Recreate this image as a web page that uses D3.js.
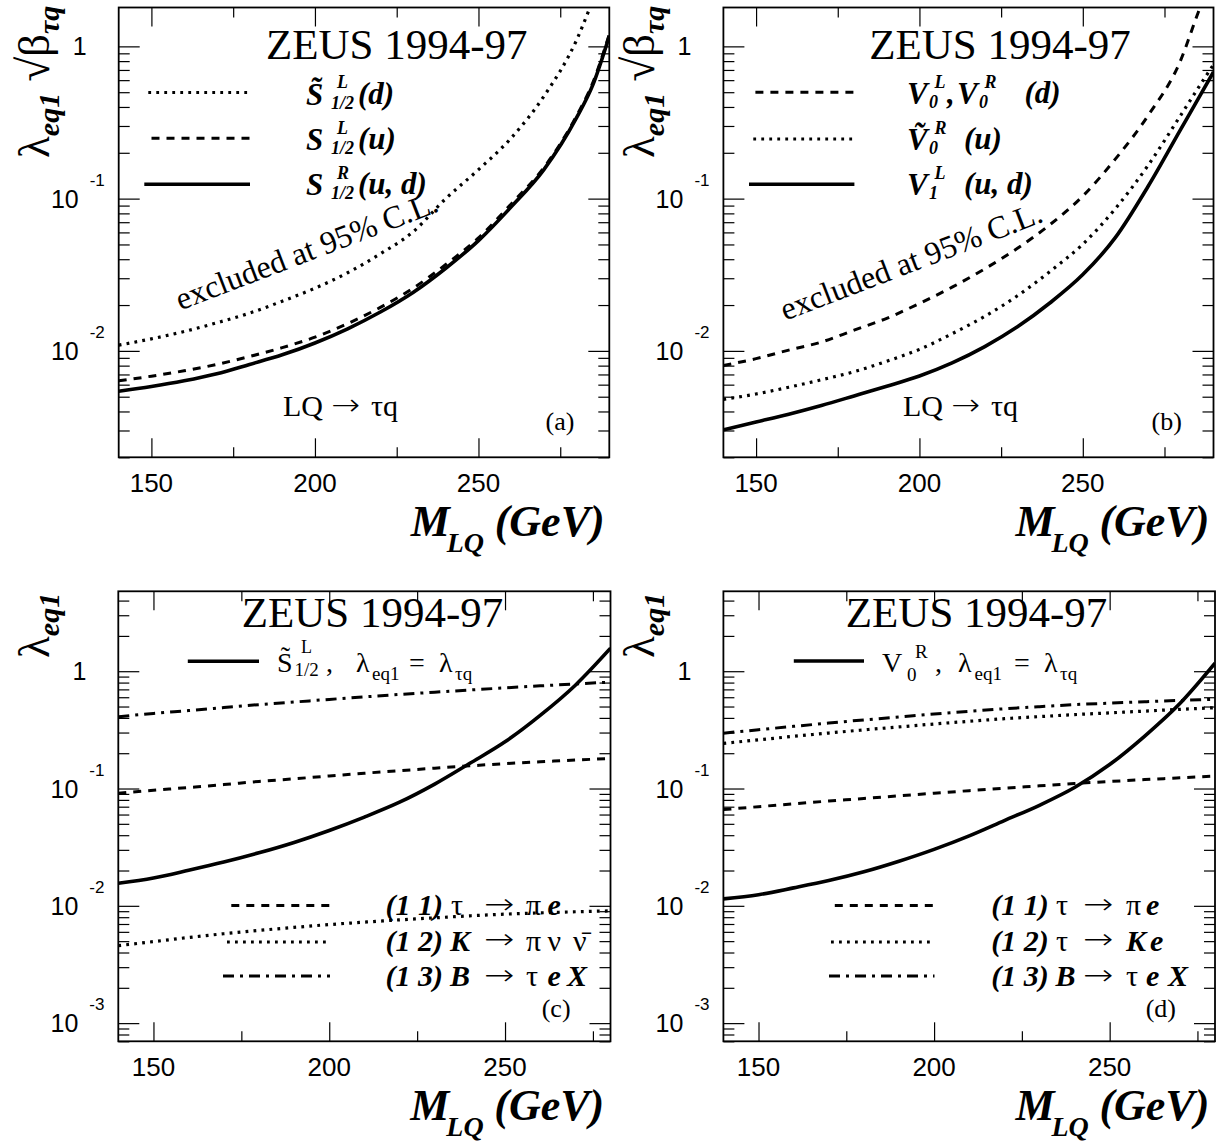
<!DOCTYPE html>
<html>
<head>
<meta charset="utf-8">
<script src="https://cdn.jsdelivr.net/npm/d3@7"></script>
<style>
  body { margin: 0; background: #fff; }
  svg text { fill: #000; }
</style>
</head>
<body>
<svg id="chart" width="1223" height="1142"></svg>
<script>
// ---------- data: coupling limits vs leptoquark mass ----------
const massAB = [140,150,160,170,180,190,200,210,220,230,240,250,260,270,280,285,290];
const massCD = [140,150,160,170,180,190,200,210,220,230,240,250,260,270,280];

// (a) scalar leptoquarks, lambda_eq1 * sqrt(beta_tq)
const aS12tL_d = [0.0109,0.0120,0.0134,0.0153,0.0177,0.0212,0.0258,0.0326,0.0434,0.0605,0.100,0.155,0.25,0.47,1.1,2.0,3.5];
const aS12L_u  = [0.00636,0.00682,0.00740,0.00815,0.00918,0.0105,0.0123,0.0151,0.0193,0.0258,0.0369,0.0552,0.0923,0.160,0.35,0.58,1.2];
const aS12R_ud = [0.00543,0.00583,0.00636,0.00708,0.00815,0.00942,0.01127,0.01396,0.0180,0.0242,0.0349,0.0530,0.0883,0.155,0.34,0.56,1.17];

// (b) vector leptoquarks
const bV0_d    = [0.00802,0.00889,0.01012,0.01143,0.01368,0.01637,0.0205,0.0262,0.0346,0.0472,0.0676,0.1040,0.1824,0.3516,0.815,1.6,3.0];
const bV0tR_u  = [0.00480,0.00521,0.00577,0.00646,0.00730,0.00855,0.01023,0.01297,0.01687,0.0230,0.0333,0.0502,0.0861,0.1656,0.354,0.52,0.76];
const bV1L_ud  = [0.00303,0.00341,0.00384,0.00438,0.00506,0.00586,0.00684,0.00834,0.01067,0.01439,0.0207,0.0317,0.0556,0.1205,0.286,0.44,0.68];

// (c) S~L_1/2 with lambda_eq1 = lambda_tq, and low-energy bounds
const cS12tL   = [0.0156,0.0173,0.0201,0.0236,0.0283,0.0347,0.0439,0.0571,0.0764,0.109,0.164,0.25,0.42,0.76,1.57];
const cBound11 = [0.0912,0.0965,0.102,0.108,0.115,0.121,0.128,0.135,0.142,0.149,0.156,0.163,0.169,0.175,0.180];
const cBound12 = [0.00458,0.00495,0.00537,0.00578,0.00617,0.00655,0.00692,0.00726,0.00759,0.00790,0.00822,0.00849,0.00871,0.00890,0.00905];
const cBound13 = [0.409,0.437,0.462,0.490,0.519,0.546,0.575,0.604,0.634,0.662,0.692,0.721,0.750,0.779,0.807];

// (d) V0R with lambda_eq1 = lambda_tq, and low-energy bounds
const dV0R     = [0.01146,0.01245,0.01422,0.01641,0.0195,0.0240,0.0303,0.0395,0.0533,0.072,0.102,0.16,0.28,0.53,1.17];
const dBound11 = [0.0661,0.0700,0.0741,0.0782,0.0822,0.0867,0.0912,0.0959,0.1007,0.1054,0.1102,0.1148,0.1191,0.1233,0.1276];
const dBound12 = [0.2427,0.260,0.2786,0.2972,0.3162,0.335,0.3548,0.3741,0.3936,0.4102,0.4266,0.4416,0.4571,0.4732,0.4887];
const dBound13 = [0.2965,0.3170,0.3388,0.3614,0.3846,0.4074,0.4315,0.4550,0.4786,0.4989,0.5188,0.5346,0.5495,0.5636,0.5768];

const xTicksMajor = [150, 200, 250];
const xTicksMinor = [175, 225, 275];

// ---------- styles ----------
const SERIF = '"Liberation Serif","Times New Roman",Times,serif';
const SANS  = '"Liberation Sans",Arial,Helvetica,sans-serif';
const ARROW = '"DejaVu Sans",sans-serif';
const STYLE = {
  solid:   { w: 3.6, dash: null },
  dashed:  { w: 3.0, dash: "8,7" },
  dotted:  { w: 3.2, dash: "2.8,5.2" },
  dashdot: { w: 3.0, dash: "11,6,3,6" }
};

const svg = d3.select("#chart");
svg.append("rect").attr("width", 1223).attr("height", 1142).attr("fill", "#fff");

let clipCount = 0;

function makePanel(o) {
  const g = svg.append("g");
  const x = d3.scaleLinear().domain(o.xDomain).range([o.left, o.right]);
  const y = d3.scaleLog().domain(o.yDomain).range([o.bottom, o.top]);
  const id = "clip" + (clipCount++);
  g.append("clipPath").attr("id", id).append("rect")
    .attr("x", o.left).attr("y", o.top)
    .attr("width", o.right - o.left).attr("height", o.bottom - o.top);

  // decade and sub-decade tick values
  const lo = Math.floor(Math.log10(o.yDomain[0])), hi = Math.ceil(Math.log10(o.yDomain[1]));
  const yMajor = [], yMinor = [];
  for (let d = lo; d <= hi; d++) {
    const base = Math.pow(10, d);
    if (base >= o.yDomain[0] && base <= o.yDomain[1]) yMajor.push(base);
    for (let k = 2; k <= 9; k++) {
      const v = k * base;
      if (v >= o.yDomain[0] && v <= o.yDomain[1]) yMinor.push(v);
    }
  }
  const addAxis = (axis, tx, ty) => {
    const a = g.append("g").attr("transform", `translate(${tx},${ty})`).call(axis);
    a.select(".domain").remove();
    a.selectAll("line").attr("stroke", "#000").attr("stroke-width", 1.2);
  };
  // ticks are drawn inside the frame on all four sides
  addAxis(d3.axisBottom(x).tickValues(xTicksMajor).tickSize(-19).tickSizeOuter(0).tickFormat(""), 0, o.bottom);
  addAxis(d3.axisBottom(x).tickValues(xTicksMinor).tickSize(-10).tickSizeOuter(0).tickFormat(""), 0, o.bottom);
  addAxis(d3.axisTop(x).tickValues(xTicksMajor).tickSize(-19).tickSizeOuter(0).tickFormat(""), 0, o.top);
  addAxis(d3.axisTop(x).tickValues(xTicksMinor).tickSize(-10).tickSizeOuter(0).tickFormat(""), 0, o.top);
  addAxis(d3.axisLeft(y).tickValues(yMajor).tickSize(-21).tickSizeOuter(0).tickFormat(""), o.left, 0);
  addAxis(d3.axisLeft(y).tickValues(yMinor).tickSize(-11).tickSizeOuter(0).tickFormat(""), o.left, 0);
  addAxis(d3.axisRight(y).tickValues(yMajor).tickSize(-21).tickSizeOuter(0).tickFormat(""), o.right, 0);
  addAxis(d3.axisRight(y).tickValues(yMinor).tickSize(-11).tickSizeOuter(0).tickFormat(""), o.right, 0);

  // frame
  g.append("rect").attr("x", o.left).attr("y", o.top)
    .attr("width", o.right - o.left).attr("height", o.bottom - o.top)
    .attr("fill", "none").attr("stroke", "#000").attr("stroke-width", 1.8);

  // x labels
  xTicksMajor.forEach(v => {
    g.append("text").attr("x", x(v)).attr("y", o.bottom + 34.5)
      .attr("text-anchor", "middle").attr("font-family", SANS).attr("font-size", 26).text(v);
  });
  // y labels: 1 and powers of ten
  yMajor.forEach(v => {
    const e = Math.round(Math.log10(v));
    const yy = y(v);
    if (e === 0) {
      g.append("text").attr("x", o.left - 32).attr("y", yy + 8.5)
        .attr("text-anchor", "end").attr("font-family", SANS).attr("font-size", 25).text("1");
    } else {
      const t = g.append("text").attr("font-family", SANS);
      t.append("tspan").attr("x", o.left - 40).attr("y", yy + 9)
        .attr("text-anchor", "end").attr("font-size", 25).text("10");
      t.append("tspan").attr("x", o.left - 29).attr("y", yy - 13)
        .attr("font-size", 17).text(String(e));
    }
  });

  const line = d3.line().x(d => x(d[0])).y(d => y(d[1])).curve(d3.curveMonotoneX);
  const curves = g.append("g").attr("clip-path", `url(#${id})`);
  o.series.forEach(s => {
    const st = STYLE[s.style];
    curves.append("path")
      .datum(s.mass.map((m, i) => [m, s.values[i]]))
      .attr("d", line).attr("fill", "none").attr("stroke", "#000")
      .attr("stroke-width", st.w).attr("stroke-dasharray", st.dash);
  });
  return { g, x, y };
}

function legendLine(g, x1, x2, yy, style) {
  const st = STYLE[style];
  g.append("line").attr("x1", x1).attr("x2", x2).attr("y1", yy).attr("y2", yy)
    .attr("stroke", "#000").attr("stroke-width", st.w).attr("stroke-dasharray", st.dash);
}

// one text element built from absolutely placed pieces (for sub/superscripts)
function compose(g, pieces) {
  const t = g.append("text").attr("font-family", SERIF);
  pieces.forEach(p => {
    const s = t.append("tspan").attr("x", p[0]).attr("y", p[1])
      .attr("font-size", p[2]).text(p[3]);
    const opt = p[4] || "";
    if (opt.includes("b")) s.attr("font-weight", "bold");
    if (opt.includes("i")) s.attr("font-style", "italic");
  });
  return t;
}
// thin, slightly widened arrow
function arrowText(g, x, y, size, sx) {
  return g.append("text").attr("font-family", ARROW).attr("font-weight", 200)
    .attr("font-size", size).attr("transform", `translate(${x},${y}) scale(${sx},1)`).text("→");
}
function put(g, x, y, size, txt) {
  return g.append("text").attr("x", x).attr("y", y)
    .attr("font-family", SERIF).attr("font-size", size).text(txt);
}

function xTitle(g, left, base) {
  compose(g, [
    [left + 292, base, 44, "M", "bi"],
    [left + 328, base + 16, 28, "LQ", "bi"],
    [left + 376, base, 44, "(GeV)", "bi"]
  ]);
}
function yTitle(g, bx, by, withBeta) {
  const t = g.append("text").attr("font-family", SERIF).attr("font-size", 45)
    .attr("transform", `translate(${bx},${by}) rotate(-90)`);
  t.append("tspan").text("λ");
  t.append("tspan").attr("font-size", 30).attr("font-weight", "bold").attr("font-style", "italic")
    .attr("dy", 10).text("eq1");
  if (withBeta) {
    t.append("tspan").attr("dy", -10).text(" √β");
    t.append("tspan").attr("font-size", 30).attr("font-weight", "bold").attr("font-style", "italic")
      .attr("dy", 10).text("τq");
  }
}
function lqLabel(g, x0, base) {
  put(g, x0, base, 30, "LQ");
  arrowText(g, x0 + 48, base - 1, 30, 1.15);
  put(g, x0 + 88, base, 30, "τq");
}
// "(i j) a → b c ..." constraint labels
function boundLabel(g, x0, base, idx, parts, arrowX) {
  compose(g, [[x0, base, 30, idx, "bi"]].concat(parts.filter(p => p[0] < arrowX).map(p => [p[0], base, 30, p[1], p[2]])));
  arrowText(g, arrowX, base - 1.2, 29, 1.25);
  compose(g, parts.filter(p => p[0] > arrowX).map(p => [p[0], base, 30, p[1], p[2]]));
}

// ---------- panel (a) ----------
const A = makePanel({
  left: 118.7, right: 609.3, top: 7.5, bottom: 457.3,
  xDomain: [140, 290], yDomain: [0.002, 1.8],
  series: [
    { mass: massAB, values: aS12tL_d, style: "dotted" },
    { mass: massAB, values: aS12L_u,  style: "dashed" },
    { mass: massAB, values: aS12R_ud, style: "solid" }
  ]
});
put(A.g, 396.7, 59, 43, "ZEUS 1994-97").attr("text-anchor", "middle");
legendLine(A.g, 148.3, 250, 92.5, "dotted");
legendLine(A.g, 151.5, 250, 138.3, "dashed");
legendLine(A.g, 144.3, 250, 184.3, "solid");
[[104.5, "L", "(d)", true], [150, "L", "(u)", false], [195, "R", "(u, d)", false]].forEach(([by, sup, tail, tilde]) => {
  compose(A.g, [
    [306, by, 31, tilde ? "S\u0303" : "S", "bi"],
    [337, by - 16.5, 18, sup, "bi"],
    [331, by + 4, 18, "1/2", "bi"],
    [358, by - 1, 31, tail, "bi"]
  ]);
});
put(A.g, 310.4, 260.6, 32, "excluded at 95% C.L.")
  .attr("text-anchor", "middle").attr("transform", "rotate(-21 310.4 260.6)");
lqLabel(A.g, 283, 416);
put(A.g, 545.6, 430, 26, "(a)");
xTitle(A.g, 118.7, 536);
yTitle(A.g, 49, 158, true);

// ---------- panel (b) ----------
const B = makePanel({
  left: 723.4, right: 1213.5, top: 7.5, bottom: 457.3,
  xDomain: [140, 290], yDomain: [0.002, 1.8],
  series: [
    { mass: massAB, values: bV0_d,   style: "dashed" },
    { mass: massAB, values: bV0tR_u, style: "dotted" },
    { mass: massAB, values: bV1L_ud, style: "solid" }
  ]
});
put(B.g, 1000, 59, 43, "ZEUS 1994-97").attr("text-anchor", "middle");
legendLine(B.g, 755.4, 854.4, 92.3, "dashed");
legendLine(B.g, 753.3, 854.4, 139, "dotted");
legendLine(B.g, 749, 854.4, 184.3, "solid");
compose(B.g, [
  [907, 104, 31, "V", "bi"], [934.5, 87.5, 18, "L", "bi"], [929, 108, 18, "0", "bi"],
  [947, 104, 31, ",", "bi"],
  [957, 104, 31, "V", "bi"], [984.5, 87.5, 18, "R", "bi"], [979, 108, 18, "0", "bi"],
  [1024.5, 103, 31, "(d)", "bi"]
]);
compose(B.g, [
  [907, 150, 31, "V\u0303", "bi"], [934.5, 133.5, 18, "R", "bi"], [929, 154, 18, "0", "bi"],
  [964, 149, 31, "(u)", "bi"]
]);
compose(B.g, [
  [907, 195, 31, "V", "bi"], [934.5, 178.5, 18, "L", "bi"], [929, 199, 18, "1", "bi"],
  [964, 194, 31, "(u, d)", "bi"]
]);
put(B.g, 915, 271, 32, "excluded at 95% C.L.")
  .attr("text-anchor", "middle").attr("transform", "rotate(-21 915 271)");
lqLabel(B.g, 903, 416);
put(B.g, 1151.5, 430, 26, "(b)");
xTitle(B.g, 723.4, 536);
yTitle(B.g, 653.7, 158, true);

// ---------- panel (c) ----------
const C = makePanel({
  left: 118.3, right: 610.5, top: 591.3, bottom: 1041.3,
  xDomain: [140, 280], yDomain: [0.0007, 4.8],
  series: [
    { mass: massCD, values: cS12tL,   style: "solid" },
    { mass: massCD, values: cBound11, style: "dashed" },
    { mass: massCD, values: cBound12, style: "dotted" },
    { mass: massCD, values: cBound13, style: "dashdot" }
  ]
});
put(C.g, 372.5, 626.5, 43, "ZEUS 1994-97").attr("text-anchor", "middle");
legendLine(C.g, 187.8, 259, 661.2, "solid");
compose(C.g, [
  [277, 672, 28, "S\u0303"], [301, 653, 18, "L"], [294.5, 676, 19, "1/2"], [326, 672, 28, ","],
  [356, 672, 28, "λ"], [372, 680, 19, "eq1"], [409, 672, 28, "="],
  [439, 672, 28, "λ"], [455, 680, 19, "τq"]
]);
legendLine(C.g, 231.3, 330, 905.6, "dashed");
legendLine(C.g, 227, 330, 942, "dotted");
legendLine(C.g, 223, 330, 976, "dashdot");
boundLabel(C.g, 385.5, 914.7, "(1 1)", [[451, "τ", ""], [526, "π", ""], [547.5, "e", "bi"]], 484);
boundLabel(C.g, 385.5, 950.5, "(1 2)", [[450, "K", "bi"], [526, "π", ""], [547.5, "ν", ""], [573, "ν\u0304", ""]], 484);
boundLabel(C.g, 385.5, 986, "(1 3)", [[450, "B", "bi"], [526, "τ", ""], [547.5, "e", "bi"], [567, "X", "bi"]], 484);
put(C.g, 541.7, 1017, 26, "(c)");
xTitle(C.g, 118.3, 1120);
yTitle(C.g, 49, 658, false);

// ---------- panel (d) ----------
const D = makePanel({
  left: 723.4, right: 1215, top: 591.3, bottom: 1041.3,
  xDomain: [140, 280], yDomain: [0.0007, 4.8],
  series: [
    { mass: massCD, values: dV0R,     style: "solid" },
    { mass: massCD, values: dBound11, style: "dashed" },
    { mass: massCD, values: dBound12, style: "dotted" },
    { mass: massCD, values: dBound13, style: "dashdot" }
  ]
});
put(D.g, 976.6, 626.5, 43, "ZEUS 1994-97").attr("text-anchor", "middle");
legendLine(D.g, 793.8, 864, 661, "solid");
compose(D.g, [
  [882, 672, 28, "V"], [915, 658, 19, "R"], [907, 681, 19, "0"], [935, 672, 28, ","],
  [958, 672, 28, "λ"], [974.5, 680, 19, "eq1"], [1014, 672, 28, "="],
  [1044, 672, 28, "λ"], [1060, 680, 19, "τq"]
]);
legendLine(D.g, 834.8, 934.5, 905.6, "dashed");
legendLine(D.g, 831, 934.5, 942, "dotted");
legendLine(D.g, 829, 934.5, 976, "dashdot");
boundLabel(D.g, 991.2, 914.7, "(1 1)", [[1056, "τ", ""], [1126, "π", ""], [1146, "e", "bi"]], 1083);
boundLabel(D.g, 991.2, 950.5, "(1 2)", [[1056, "τ", ""], [1126, "K", "bi"], [1150, "e", "bi"]], 1083);
boundLabel(D.g, 991.2, 986, "(1 3)", [[1055.5, "B", "bi"], [1126, "τ", ""], [1146, "e", "bi"], [1168, "X", "bi"]], 1083);
put(D.g, 1145.7, 1017, 26, "(d)");
xTitle(D.g, 723.4, 1120);
yTitle(D.g, 653.7, 658, false);
</script>
</body>
</html>
